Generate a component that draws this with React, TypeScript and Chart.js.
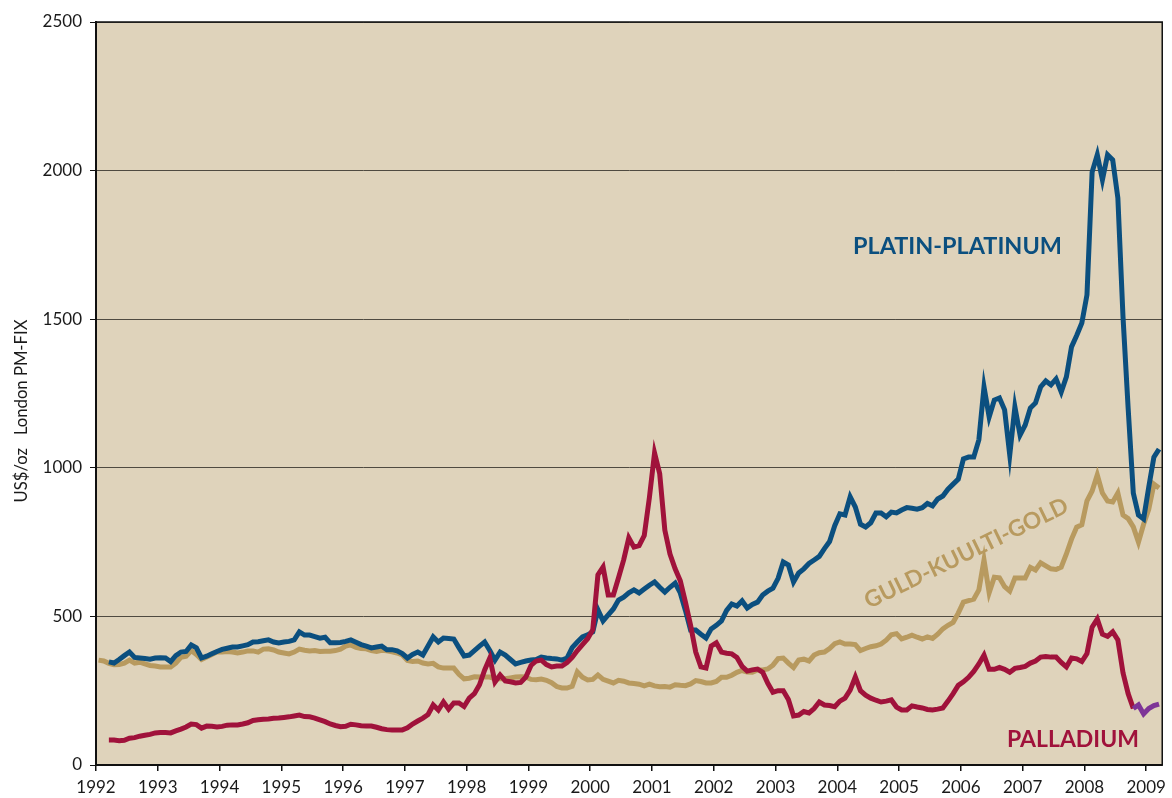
import React, { useEffect, useRef } from "react";
import { Chart, registerables } from "chart.js";

Chart.register(...registerables);

// ---- Data (monthly London PM fix averages, US$/oz) ----
const START_YEAR = 1992;
const goldStartMonth = 0; // Jan 1992
const platinumStartMonth = 2; // Mar 1992
const palladiumStartMonth = 2; // Mar 1992
const palladiumLateStartMonth = 201; // Oct 2008

const xTickYears = [1992, 1993, 1994, 1995, 1996, 1997, 1998, 1999, 2000, 2001, 2002, 2003, 2004, 2005, 2006, 2007, 2008, 2009];
const yTickValues = [0, 500, 1000, 1500, 2000, 2500];

const goldValues = [
  353, 350, 342, 337, 338, 343, 353, 343, 346, 340, 335, 333,
  330, 330, 330, 343, 362, 366, 385, 372, 355, 363, 372, 380,
  380, 382, 380, 377, 380, 384, 384, 380, 390, 391, 387, 380,
  377, 374, 380, 390, 386, 384, 385, 382, 383, 383, 385, 390,
  400, 404, 396, 392, 391, 385, 382, 386, 384, 381, 377, 370,
  352, 348, 350, 343, 340, 342, 330, 326, 326, 326, 305, 290,
  292, 297, 296, 296, 296, 290, 291, 290, 293, 296, 297, 296,
  288, 287, 289, 285, 277, 264, 259, 259, 265, 313, 295, 286,
  288, 303, 288, 282, 276, 285, 282, 276, 274, 272, 266, 272,
  266, 263, 264, 262, 270, 268, 267, 273, 284, 281, 276, 276,
  281, 295, 295, 302, 312, 318, 313, 312, 320, 320, 323, 336,
  358, 360, 343, 328, 353, 356, 350, 370, 378, 380, 392, 408,
  414, 407, 407, 405, 385, 392, 398, 401, 407, 420, 438, 442,
  424, 430, 437, 430, 424, 431, 426, 440, 458, 470, 480, 511,
  548, 553, 558, 589, 690, 580, 632, 630, 600, 585, 629, 629,
  629, 665, 656, 680, 670, 660, 658, 666, 710, 760, 800, 808,
  889, 922, 976, 915, 888, 885, 915, 841, 829, 801, 750, 810,
  860, 945, 932,
];

const platinumValues = [
  347, 343, 355, 368, 380, 362, 360, 358, 356, 360,
  361, 360, 348, 368, 380, 382, 404, 394, 360, 366, 374, 382,
  389, 393, 397, 397, 401, 405, 414, 415, 418, 421, 414, 411,
  414, 416, 421, 448, 437, 437, 432, 427, 430, 411, 411, 412,
  416, 421, 413, 405, 400, 394, 397, 400, 388, 388, 384, 375,
  360, 372, 380, 370, 400, 431, 414, 427, 426, 424, 395, 367,
  370, 385, 400, 414, 385, 353, 380, 370, 355, 340, 345, 350,
  353, 355, 363, 360, 358, 357, 353, 360, 395, 414, 431, 438,
  448, 522, 485, 505, 525, 555, 565, 579, 589, 579, 592, 605,
  616, 598, 582, 598, 612, 579, 520, 454, 454, 440, 427, 458,
  470, 485, 520, 542, 535, 552, 528, 540, 548, 572, 585, 595,
  628, 683, 673, 616, 646, 660, 678, 690, 702, 728, 752, 805,
  845, 841, 902, 868, 810, 801, 815, 848, 848, 835, 851, 848,
  858, 866, 864, 861, 866, 880, 872, 895, 905, 928, 945, 962,
  1030, 1036, 1036, 1094, 1272, 1171, 1228, 1235, 1195, 1043, 1205, 1110,
  1144, 1201, 1218, 1272, 1292, 1279, 1299, 1255, 1306, 1407, 1445, 1487,
  1582, 1995, 2053, 1969, 2053, 2036, 1908, 1508, 1200, 915, 841, 828,
  935, 1036, 1063,
];

const palladiumValues = [
  84, 84, 82, 83, 90, 92, 97, 100, 103, 108,
  109, 109, 108, 115, 121, 128, 138, 136, 124, 131, 130, 128,
  130, 134, 135, 135, 138, 142, 150, 152, 154, 155, 157, 158,
  160, 162, 165, 168, 163, 162, 158, 152, 146, 138, 133, 129,
  130, 137, 135, 132, 131, 131, 127, 122, 119, 118, 118, 118,
  125, 138, 148, 158, 170, 202, 185, 212, 188, 209, 209, 197,
  225, 240, 270, 320, 360, 279, 303, 283, 280, 276, 278, 296,
  335, 350, 353, 338, 330, 333, 333, 345, 362, 385, 405, 425,
  455, 640, 666, 572, 572, 630, 690, 764, 733, 738, 772, 900,
  1050, 980, 790, 710, 660, 620, 548, 470, 380, 330, 326, 400,
  411, 380, 376, 374, 362, 332, 316, 320, 323, 312, 275, 245,
  250, 250, 220, 165, 168, 180, 175, 190, 212, 202, 200, 196,
  215, 225, 252, 296, 250, 235, 225, 218, 212, 215, 219, 195,
  185, 185, 199, 195, 192, 187, 185, 188, 192, 215, 240, 268,
  280, 295, 315, 340, 370, 322, 322, 328, 322, 312, 325, 328,
  332, 343, 350, 363, 365, 363, 363, 345, 330, 360, 357, 348,
  375, 464, 491, 440, 433, 448, 421, 310, 240, 190,
];

const palladiumLateValues = [190, 202, 172, 190, 200, 205];

const seriesLabels = ["PLATIN-PLATINUM", "GULD-KUULTI-GOLD", "PALLADIUM"];
const yAxisTitle = "US$/oz   London PM-FIX";

// ---- Styles ----
const COLORS = {
  gold: "#b89a5f",
  platinum: "#0b4f7f",
  palladium: "#a0123b",
  palladiumLate: "#7e3597",
  plotBg: "#dfd3bb",
  grid: "#4f4a40",
  axis: "#111111",
  text: "#1a1a1a",
};
const FONT = "Lato, 'Open Sans', sans-serif";

function toPoints(values: number[], startMonth: number) {
  return values.map((v, i) => ({ x: START_YEAR + (startMonth + i + 0.5) / 12, y: v }));
}

function fitFont(ctx: CanvasRenderingContext2D, text: string, weight: string, targetWidth: number) {
  ctx.font = `${weight} 20px ${FONT}`;
  const w = ctx.measureText(text).width;
  const size = (20 * targetWidth) / w;
  ctx.font = `${weight} ${size}px ${FONT}`;
  return size;
}

const decorPlugin = {
  id: "decor",
  beforeDraw(chart: any) {
    const { ctx, chartArea } = chart;
    ctx.save();
    ctx.fillStyle = COLORS.plotBg;
    ctx.fillRect(chartArea.left, chartArea.top, chartArea.right - chartArea.left, chartArea.bottom - chartArea.top);
    ctx.restore();
  },
  afterDraw(chart: any) {
    const { ctx, chartArea } = chart;
    ctx.save();
    // frame
    ctx.strokeStyle = COLORS.axis;
    ctx.lineWidth = 1.5;
    ctx.strokeRect(chartArea.left, chartArea.top, chartArea.right - chartArea.left, chartArea.bottom - chartArea.top);

    // y-axis title
    ctx.save();
    ctx.translate(22, 411);
    ctx.rotate(-Math.PI / 2);
    fitFont(ctx, yAxisTitle, "normal", 183);
    ctx.fillStyle = COLORS.text;
    ctx.textAlign = "center";
    ctx.textBaseline = "middle";
    ctx.fillText(yAxisTitle, 0, 0);
    ctx.restore();

    // series labels
    ctx.textAlign = "left";
    ctx.textBaseline = "alphabetic";
    fitFont(ctx, seriesLabels[0], "bold", 209);
    ctx.fillStyle = COLORS.platinum;
    ctx.fillText(seriesLabels[0], 853, 254);

    fitFont(ctx, seriesLabels[2], "bold", 132);
    ctx.fillStyle = COLORS.palladium;
    ctx.fillText(seriesLabels[2], 1007, 747);

    ctx.save();
    ctx.translate(869, 609);
    ctx.rotate((-26 * Math.PI) / 180);
    fitFont(ctx, seriesLabels[1], "bold", 224);
    ctx.fillStyle = COLORS.gold;
    ctx.fillText(seriesLabels[1], 0, 0);
    ctx.restore();

    ctx.restore();
  },
};

export default function App() {
  const canvasRef = useRef<HTMLCanvasElement | null>(null);

  useEffect(() => {
    const canvas = canvasRef.current;
    if (!canvas) return;
    const lineCommon = {
      borderWidth: 5,
      pointRadius: 0,
      tension: 0,
      borderJoinStyle: "miter" as const,
      borderCapStyle: "butt" as const,
      fill: false,
    };
    const chart = new Chart(canvas, {
      type: "line",
      data: {
        datasets: [
          { ...lineCommon, label: "Palladium (late)", data: toPoints(palladiumLateValues, palladiumLateStartMonth), borderColor: COLORS.palladiumLate },
          { ...lineCommon, label: "Palladium", data: toPoints(palladiumValues, palladiumStartMonth), borderColor: COLORS.palladium },
          { ...lineCommon, label: "Platinum", data: toPoints(platinumValues, platinumStartMonth), borderColor: COLORS.platinum },
          { ...lineCommon, label: "Gold", data: toPoints(goldValues, goldStartMonth), borderColor: COLORS.gold },
        ],
      },
      options: {
        animation: false,
        responsive: true,
        maintainAspectRatio: false,
        layout: { padding: { top: 22, right: 7, left: 0, bottom: 0 } },
        plugins: { legend: { display: false }, tooltip: { enabled: false } },
        scales: {
          x: {
            type: "linear",
            min: 1992,
            max: 2009.26,
            afterBuildTicks: (scale: any) => {
              scale.ticks = xTickYears.map((v) => ({ value: v }));
            },
            afterFit: (scale: any) => {
              scale.height = 33;
            },
            ticks: {
              autoSkip: false,
              maxRotation: 0,
              padding: 6,
              color: COLORS.text,
              font: { family: FONT, size: 17 },
              callback: (v: any) => String(v),
            },
            grid: { drawOnChartArea: false, tickLength: 6, color: COLORS.axis, lineWidth: 1.5 },
            border: { color: COLORS.axis, width: 2 },
          },
          y: {
            min: 0,
            max: 2500,
            afterBuildTicks: (scale: any) => {
              scale.ticks = yTickValues.map((v) => ({ value: v }));
            },
            afterFit: (scale: any) => {
              scale.width = 96;
            },
            ticks: {
              padding: 8,
              color: COLORS.text,
              font: { family: FONT, size: 17 },
              callback: (v: any) => String(v),
            },
            grid: { color: COLORS.grid, tickColor: COLORS.axis, tickLength: 6, lineWidth: 1 },
            border: { color: COLORS.axis, width: 2 },
          },
        },
      },
      plugins: [decorPlugin],
    } as any);
    return () => chart.destroy();
  }, []);

  return (
    <div style={{ position: "fixed", left: 0, top: 0, width: 1172, height: 798, background: "#ffffff" }}>
      <canvas ref={canvasRef} />
    </div>
  );
}
